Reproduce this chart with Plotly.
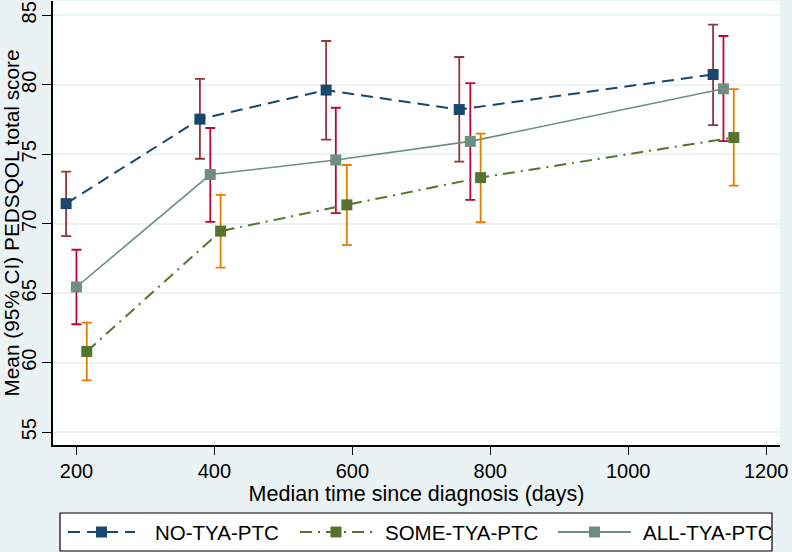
import plotly.graph_objects as go

# ---- data ----
series_names = ["NO-TYA-PTC", "SOME-TYA-PTC", "ALL-TYA-PTC"]

no_days = [185, 379, 562, 755, 1123]
no_mean = [71.45, 77.53, 79.62, 78.22, 80.74]
no_lo = [69.11, 74.68, 76.05, 74.47, 77.10]
no_hi = [73.75, 80.43, 83.15, 82.00, 84.33]

some_days = [215, 409, 592, 786, 1153]
some_mean = [60.81, 69.47, 71.36, 73.32, 76.21]
some_lo = [58.73, 66.84, 68.46, 70.11, 72.75]
some_hi = [62.89, 72.08, 74.23, 76.48, 79.69]

all_days = [200, 394, 576, 771, 1138]
all_mean = [65.45, 73.54, 74.59, 75.93, 79.71]
all_lo = [62.77, 70.14, 70.76, 71.72, 75.95]
all_hi = [68.13, 76.89, 78.35, 80.12, 83.51]

x_ticks = [200, 400, 600, 800, 1000, 1200]
y_ticks = [55, 60, 65, 70, 75, 80, 85]

NAVY = "#1a476f"
MAROON = "#90353b"
GREEN = "#55752f"
ORANGE = "#e37e00"
TEAL = "#6e8e84"
CRAN = "#c10534"
BG = "#eaf2f3"
FONT = "Liberation Sans, Arial, sans-serif"

fig = go.Figure()

def add_series(x, m, lo, hi, color, ci_color, dash, lw):
    fig.add_trace(go.Scatter(
        x=x, y=m, mode="lines+markers",
        line=dict(color=color, width=lw, dash=dash),
        marker=dict(symbol="square", size=11, color=color),
        error_y=dict(type="data", symmetric=False,
                     array=[h - v for h, v in zip(hi, m)],
                     arrayminus=[v - l for v, l in zip(m, lo)],
                     color=ci_color, thickness=1.8, width=5),
        showlegend=False, hoverinfo="skip",
    ))

add_series(no_days, no_mean, no_lo, no_hi, NAVY, MAROON, "12px,7px", 2)
add_series(all_days, all_mean, all_lo, all_hi, TEAL, CRAN, "solid", 1.6)
add_series(some_days, some_mean, some_lo, some_hi, GREEN, ORANGE, "12px,6px,2px,6px", 2)

W, H = 792, 552
L, R, T, B = 53, 12, 1, 107
pw, ph = W - L - R, H - T - B

def px(xp):
    return (xp - L) / pw

def py(yp):
    return (H - B - yp) / ph

shapes = []
annotations = []
# legend box
shapes.append(dict(type="rect", xref="paper", yref="paper",
                   x0=px(60), x1=px(772), y0=py(551), y1=py(513),
                   line=dict(color="black", width=1.2), fillcolor="white", layer="above"))
leg_y = 532
leg_items = [
    (series_names[0], NAVY, "12px,7px", 68, 135, 153),
    (series_names[1], GREEN, "12px,6px,2px,6px", 300, 372, 383),
    (series_names[2], TEAL, "solid", 558, 631, 641),
]
for name, col, dash, x0, x1, tx in leg_items:
    shapes.append(dict(type="line", xref="paper", yref="paper",
                       x0=px(x0), x1=px(x1), y0=py(leg_y), y1=py(leg_y),
                       line=dict(color=col, width=2, dash=dash), layer="above"))
    cx = (x0 + x1) / 2
    shapes.append(dict(type="rect", xref="paper", yref="paper",
                       x0=px(cx - 5.5), x1=px(cx + 5.5), y0=py(leg_y + 5.5), y1=py(leg_y - 5.5),
                       line=dict(width=0), fillcolor=col, layer="above"))
    annotations.append(dict(xref="paper", yref="paper", x=px(tx), y=py(leg_y),
                            xanchor="left", yanchor="middle", showarrow=False,
                            text=name, font=dict(family=FONT, size=20.5, color="black")))

fig.update_layout(
    width=W, height=H,
    margin=dict(l=L, r=R, t=T, b=B, pad=0),
    paper_bgcolor=BG, plot_bgcolor="white",
    font=dict(family=FONT, size=20, color="black"),
    shapes=shapes, annotations=annotations,
    showlegend=False,
    xaxis=dict(range=[166, 1220], tickvals=x_ticks, ticks="outside", ticklen=8,
               tickcolor="black", tickwidth=1.2, showgrid=False, zeroline=False,
               showline=True, linecolor="black", linewidth=1.5,
               tickfont=dict(size=20), ticklabelstandoff=-1,
               title=dict(text="Median time since diagnosis (days)", font=dict(size=21.5), standoff=0),
               automargin=False),
    yaxis=dict(range=[54.08, 86.03], tickvals=y_ticks, ticks="outside", ticklen=9,
               tickcolor="black", tickwidth=1.2, tickangle=-90,
               showgrid=True, gridcolor=BG, gridwidth=2, zeroline=False,
               showline=True, linecolor="black", linewidth=1.5,
               tickfont=dict(size=20), ticklabelstandoff=-2,
               title=dict(text="Mean (95% CI) PEDSQOL total score", font=dict(size=20.8), standoff=5),
               automargin=False),
)

fig.write_html("out.html", config={"displayModeBar": False},
               post_script="document.body.style.margin='0';document.body.style.padding='0';")
